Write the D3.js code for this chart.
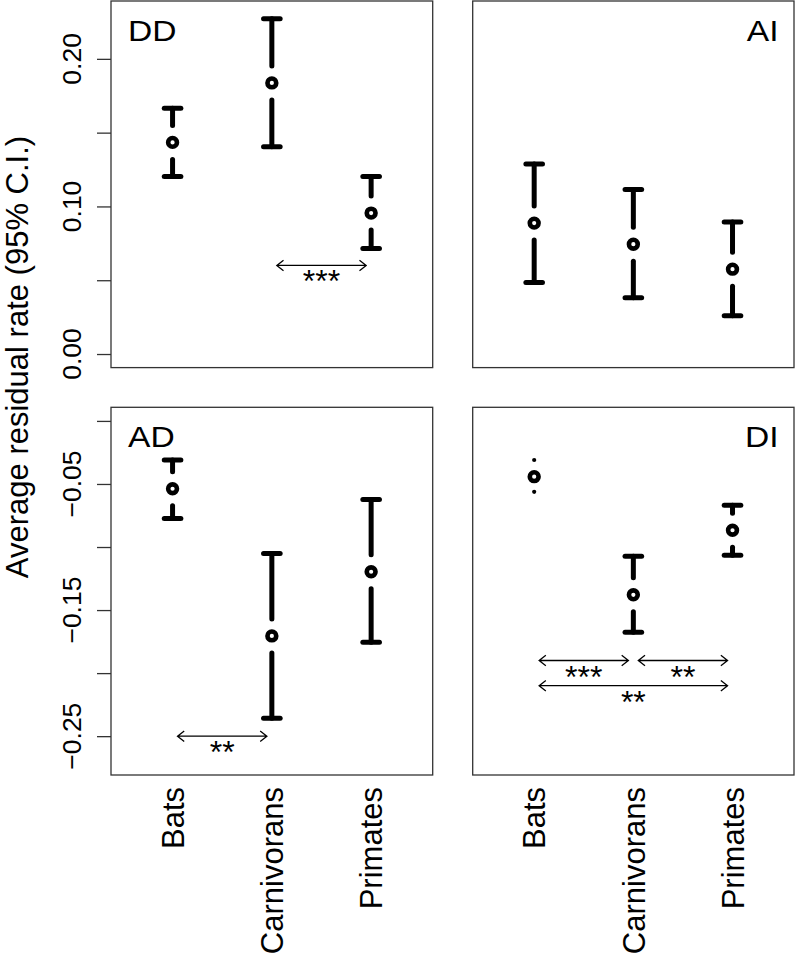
<!DOCTYPE html>
<html>
<head>
<meta charset="utf-8">
<script src="https://cdn.jsdelivr.net/npm/d3@7"></script>
<style>
  html, body { margin: 0; padding: 0; background: #fff; }
  svg { display: block; }
  text { font-family: "Liberation Sans", Arial, Helvetica, sans-serif; fill: #000; }
</style>
</head>
<body>
<svg id="chart" width="796" height="955"></svg>
<script>
// ---------------- data ----------------
const categories = ["Bats", "Carnivorans", "Primates"];
const panelNames = ["DD", "AI", "AD", "DI"];

// mean and 95% CI per panel (order: Bats, Carnivorans, Primates)
const ddMean  = [0.1434, 0.1837, 0.0955];
const ddLower = [0.1203, 0.1405, 0.0715];
const ddUpper = [0.1665, 0.2271, 0.1203];

const aiMean  = [0.0887, 0.0744, 0.0575];
const aiLower = [0.0484, 0.0382, 0.0260];
const aiUpper = [0.1287, 0.1115, 0.0894];

const adMean  = [-0.0538, -0.1705, -0.1196];
const adLower = [-0.0774, -0.2357, -0.1755];
const adUpper = [-0.0310, -0.1052, -0.0623];

const diMean  = [-0.0442, -0.1379, -0.0867];
const diLower = [-0.0562, -0.1676, -0.1066];
const diUpper = [-0.0310, -0.1074, -0.0668];

// y limits per row (R style, extended 4%)
const topYlim = [0, 0.23];
const bottomYlim = [-0.27, 0];

// y axis ticks and which carry labels
const topTicks = [0, 0.05, 0.10, 0.15, 0.20];
const topTickLabels = ["0.00", "", "0.10", "", "0.20"];
const bottomTicks = [0, -0.05, -0.10, -0.15, -0.20, -0.25];
const bottomTickLabels = ["", "\u22120.05", "", "\u22120.15", "", "\u22120.25"];

// significance comparisons: [from category index, to category index, y level, label]
const ddSig = [[1, 2, 0.06, "***"]];
const aiSig = [];
const adSig = [[0, 1, -0.25, "**"]];
const diSig = [[0, 1, -0.19, "***"], [1, 2, -0.19, "**"], [0, 2, -0.21, "**"]];

const axisTitle = "Average residual rate (95% C.I.)";

// ---------------- layout ----------------
const svg = d3.select("#chart");
const colL = [111, 432.7], colR = [472.7, 794];
const rowT = [1, 367.6], rowB = [407.3, 775];

function ext(lim) { const d = (lim[1] - lim[0]) * 0.04; return [lim[0] - d, lim[1] + d]; }

const panels = [
  { name: panelNames[0], cols: colL, rows: rowT, ylim: topYlim, mean: ddMean, lo: ddLower, hi: ddUpper, sig: ddSig, axis: true, ticks: topTicks, tickLabels: topTickLabels, labelPos: "left" },
  { name: panelNames[1], cols: colR, rows: rowT, ylim: topYlim, mean: aiMean, lo: aiLower, hi: aiUpper, sig: aiSig, axis: false, labelPos: "right" },
  { name: panelNames[2], cols: colL, rows: rowB, ylim: bottomYlim, mean: adMean, lo: adLower, hi: adUpper, sig: adSig, axis: true, ticks: bottomTicks, tickLabels: bottomTickLabels, labelPos: "left", xlabels: true },
  { name: panelNames[3], cols: colR, rows: rowB, ylim: bottomYlim, mean: diMean, lo: diLower, hi: diUpper, sig: diSig, axis: false, labelPos: "right", xlabels: true }
];

const LW = 5, GAP = 17, CAP = 8.3, PT_R = 4.4, PT_SW = 4.6;
const SIG_OFF = 0.05, HEAD_LEN = 8.5, HEAD_ANG = 38 * Math.PI / 180;

panels.forEach(p => {
  const x = d3.scaleLinear().domain([0.38, 3.62]).range(p.cols);
  const y = d3.scaleLinear().domain(ext(p.ylim)).range([p.rows[1], p.rows[0]]);
  const g = svg.append("g");

  // frame
  g.append("rect")
    .attr("x", p.cols[0]).attr("y", p.rows[0])
    .attr("width", p.cols[1] - p.cols[0]).attr("height", p.rows[1] - p.rows[0])
    .attr("fill", "none").attr("stroke", "#333").attr("stroke-width", 1.3);

  // y axis
  if (p.axis) {
    const ax = g.append("g").attr("transform", `translate(${p.cols[0]},0)`)
      .call(d3.axisLeft(y).tickValues(p.ticks).tickSize(14).tickFormat(""));
    ax.select(".domain").remove();
    ax.selectAll(".tick line").attr("stroke", "#333").attr("stroke-width", 1.3);
    p.ticks.forEach((t, i) => {
      if (!p.tickLabels[i]) return;
      g.append("text")
        .attr("transform", `translate(81,${y(t)}) rotate(-90)`)
        .attr("text-anchor", "middle")
        .attr("font-size", 26.5)
        .text(p.tickLabels[i]);
    });
  }

  // panel label
  const ly0 = p.rows[0] + 39.5;
  const lx0 = p.labelPos === "left" ? p.cols[0] + 17 : p.cols[1] - 15.5;
  g.append("text").attr("font-size", 30)
    .attr("text-anchor", p.labelPos === "left" ? "start" : "end")
    .attr("transform", `translate(${lx0},${ly0}) scale(1.12,1)`)
    .text(p.name);

  // error bars
  categories.forEach((c, i) => {
    const cx = x(i + 1), cy = y(p.mean[i]);
    const uy = y(p.hi[i]), ly = y(p.lo[i]);
    const seg = (y0, y1) => g.append("line")
      .attr("x1", cx).attr("x2", cx).attr("y1", y0).attr("y2", y1)
      .attr("stroke", "#000").attr("stroke-width", LW).attr("stroke-linecap", "round");
    const cap = (yy) => g.append("line")
      .attr("x1", cx - CAP).attr("x2", cx + CAP).attr("y1", yy).attr("y2", yy)
      .attr("stroke", "#000").attr("stroke-width", LW).attr("stroke-linecap", "round");
    const dot = (yy) => g.append("circle").attr("cx", cx).attr("cy", yy).attr("r", LW / 2 - 0.4).attr("fill", "#000");
    if (cy - uy > GAP) { seg(uy, cy - GAP); cap(uy); } else dot(uy);
    if (ly - cy > GAP) { seg(ly, cy + GAP); cap(ly); } else dot(ly);
    g.append("circle").attr("cx", cx).attr("cy", cy).attr("r", PT_R)
      .attr("fill", "#fff").attr("stroke", "#000").attr("stroke-width", PT_SW);
  });

  // significance arrows
  p.sig.forEach(s => {
    const x0 = x(s[0] + 1 + SIG_OFF), x1 = x(s[1] + 1 - SIG_OFF), yy = y(s[2]);
    const dx = HEAD_LEN * Math.cos(HEAD_ANG), dy = HEAD_LEN * Math.sin(HEAD_ANG);
    const path = `M${x0},${yy}L${x1},${yy}` +
      `M${x0 + dx},${yy - dy}L${x0},${yy}L${x0 + dx},${yy + dy}` +
      `M${x1 - dx},${yy - dy}L${x1},${yy}L${x1 - dx},${yy + dy}`;
    g.append("path").attr("d", path).attr("fill", "none")
      .attr("stroke", "#000").attr("stroke-width", 1.3);
    g.append("text")
      .attr("x", (x0 + x1) / 2).attr("y", yy + 27)
      .attr("text-anchor", "middle").attr("font-size", 32)
      .text(s[3]);
  });

  // category labels
  if (p.xlabels) {
    categories.forEach((c, i) => {
      g.append("text")
        .attr("transform", `translate(${x(i + 1) + 11.2},787) rotate(-90)`)
        .attr("text-anchor", "end")
        .attr("font-size", 31)
        .text(c);
    });
  }
});

// y axis title
svg.append("text")
  .attr("transform", "translate(28,357) rotate(-90)")
  .attr("text-anchor", "middle")
  .attr("font-size", 31)
  .text(axisTitle);
</script>
</body>
</html>
